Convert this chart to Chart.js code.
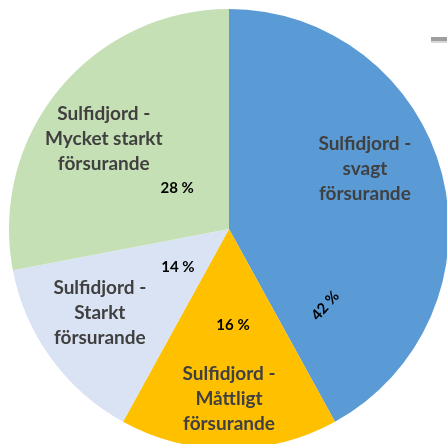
<!DOCTYPE html>
<html>
<head>
<meta charset="utf-8">
<script src="https://cdn.jsdelivr.net/npm/chart.js@4.4.0/dist/chart.umd.min.js"></script>
<style>
    html, body { margin: 0; padding: 0; background: #fff; overflow: hidden; }
    #wrap { position: absolute; left: 0; top: 0; width: 458px; height: 458px; }
</style>
</head>
<body>
<div id="wrap"><canvas id="pieChart"></canvas></div>
<script>
// Kategorier (flera rader per etikett) och andelar i procent
const categories = [
    ['Sulfidjord -', 'svagt', 'försurande'],
    ['Sulfidjord -', 'Måttligt', 'försurande'],
    ['Sulfidjord -', 'Starkt', 'försurande'],
    ['Sulfidjord -', 'Mycket starkt', 'försurande']
];
const shares = [42, 16, 14, 28];
const sliceColors = ['#5B9BD5', '#FFC000', '#DAE3F3', '#C5E0B4'];

// Placering av texterna: vinkelförskjutning (grader) från sektorns mitt och andel av radien
const nameSpots = [[-9.4, 0.675], [0, 0.773], [3, 0.70], [-4, 0.70]];
const pctSpots = [[53, 0.56, -48], [-2.4, 0.436, 0], [-0.7, 0.29, 0], [-1.3, 0.30, 0]];

const sliceLabels = {
    id: 'sliceLabels',
    afterDatasetsDraw(chart) {
        const ctx = chart.ctx;
        const meta = chart.getDatasetMeta(0);
        meta.data.forEach((arc, i) => {
            const { x, y, startAngle, endAngle, outerRadius } =
                arc.getProps(['x', 'y', 'startAngle', 'endAngle', 'outerRadius'], true);
            const mid = (startAngle + endAngle) / 2;

            // Kategorinamn
            const [da, rf] = nameSpots[i];
            const a = mid + da * Math.PI / 180;
            const cx = x + Math.cos(a) * outerRadius * rf;
            const cy = y + Math.sin(a) * outerRadius * rf;
            const lines = chart.data.labels[i];
            const lh = 25;
            ctx.save();
            ctx.font = 'bold 19px Lato, "Open Sans", sans-serif';
            ctx.fillStyle = '#404040';
            ctx.textAlign = 'center';
            ctx.textBaseline = 'middle';
            lines.forEach((line, k) => {
                ctx.fillText(line, cx, cy + (k - (lines.length - 1) / 2) * lh);
            });
            ctx.restore();

            // Procentetikett
            const [pa, pr, rot] = pctSpots[i];
            const b = mid + pa * Math.PI / 180;
            const px = x + Math.cos(b) * outerRadius * pr;
            const py = y + Math.sin(b) * outerRadius * pr;
            ctx.save();
            ctx.translate(px, py);
            ctx.rotate(rot * Math.PI / 180);
            ctx.font = 'bold 15px Lato, "Open Sans", sans-serif';
            ctx.fillStyle = '#000';
            ctx.textAlign = 'center';
            ctx.textBaseline = 'middle';
            ctx.fillText(chart.data.datasets[0].data[i] + ' %', 0, 0);
            ctx.restore();
        });

        // grå kant uppe till höger (del av originalbilden)
        ctx.save();
        ctx.fillStyle = '#9e9e9e';
        ctx.fillRect(431, 37, 16, 4);
        ctx.fillStyle = '#d8d8d8';
        ctx.fillRect(431, 41, 16, 2);
        ctx.restore();
    }
};

new Chart(document.getElementById('pieChart'), {
    type: 'pie',
    data: {
        labels: categories,
        datasets: [{
            data: shares,
            backgroundColor: sliceColors,
            borderWidth: 0,
            radius: 220
        }]
    },
    options: {
        responsive: true,
        maintainAspectRatio: false,
        animation: false,
        layout: { padding: 0 },
        plugins: {
            legend: { display: false },
            tooltip: { enabled: false }
        }
    },
    plugins: [sliceLabels]
});
</script>
</body>
</html>
